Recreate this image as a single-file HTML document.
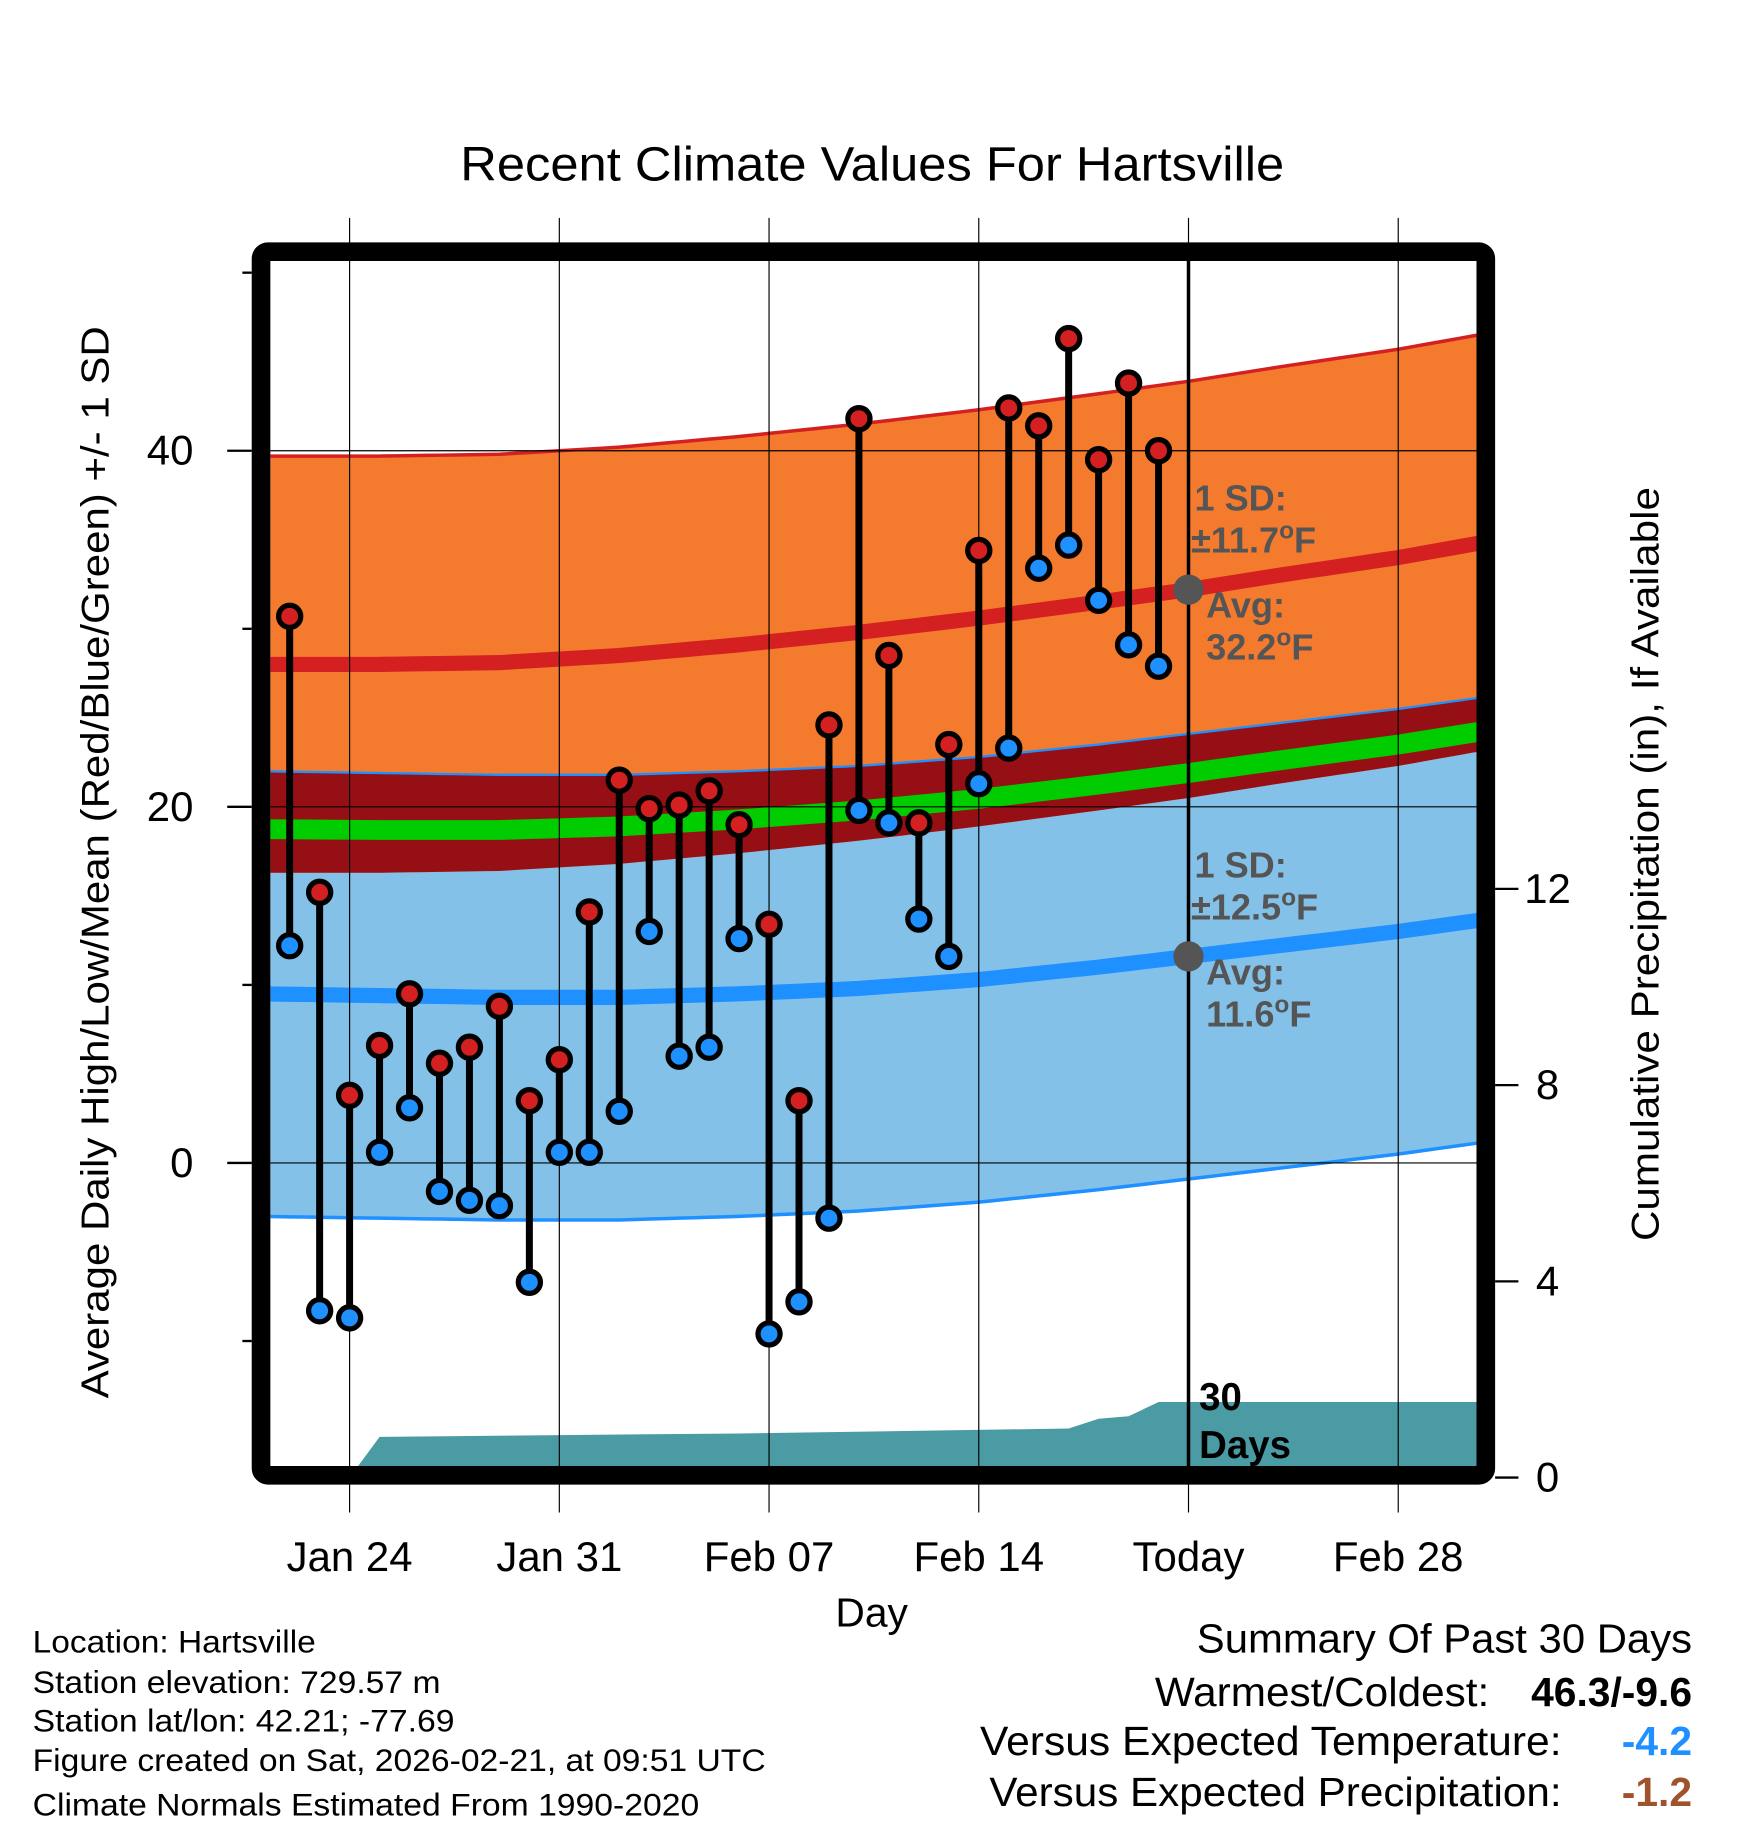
<!DOCTYPE html>
<html><head><meta charset="utf-8">
<style>
html,body{margin:0;padding:0;background:#fff;}
svg{display:block;font-family:"Liberation Sans",Arial,sans-serif;}
</style></head>
<body>
<svg id="chart" width="1748" height="1828" viewBox="0 0 1500 1568.7" preserveAspectRatio="none" xmlns="http://www.w3.org/2000/svg">
<defs><clipPath id="plotclip"><rect x="232" y="224" width="1035" height="1034"/></clipPath></defs>
<text x="395" y="155" font-size="41" textLength="707" lengthAdjust="spacingAndGlyphs">Recent Climate Values For Hartsville</text>
<g id="bands" clip-path="url(#plotclip)"></g>
<g id="grid"></g>
<g id="marks"></g>
<g id="annot"></g>
<rect x="224" y="216" width="1051" height="1050" rx="6" fill="none" stroke="#000" stroke-width="16"/>
<g id="axes"></g>
<text transform="translate(93,1200) rotate(-90)" font-size="33" textLength="920" lengthAdjust="spacingAndGlyphs">Average Daily High/Low/Mean (Red/Blue/Green) +/- 1 SD</text>
<text transform="translate(1423,1065) rotate(-90)" font-size="33" textLength="647" lengthAdjust="spacingAndGlyphs">Cumulative Precipitation (in), If Available</text>
<text x="748" y="1396" font-size="35" text-anchor="middle">Day</text>
<g font-size="27">
<text x="28" y="1418" textLength="243" lengthAdjust="spacingAndGlyphs">Location: Hartsville</text>
<text x="28" y="1453" textLength="350" lengthAdjust="spacingAndGlyphs">Station elevation: 729.57 m</text>
<text x="28" y="1486" textLength="362" lengthAdjust="spacingAndGlyphs">Station lat/lon: 42.21; -77.69</text>
<text x="28" y="1520" textLength="629" lengthAdjust="spacingAndGlyphs">Figure created on Sat, 2026-02-21, at 09:51 UTC</text>
<text x="28" y="1558" textLength="572" lengthAdjust="spacingAndGlyphs">Climate Normals Estimated From 1990-2020</text>
</g>
<g font-size="35">
<text x="1027" y="1418" textLength="425" lengthAdjust="spacingAndGlyphs">Summary Of Past 30 Days</text>
<text x="991" y="1464" textLength="287" lengthAdjust="spacingAndGlyphs">Warmest/Coldest:</text>
<text x="1452" y="1464" text-anchor="end" font-weight="bold">46.3/-9.6</text>
<text x="841" y="1506" textLength="499" lengthAdjust="spacingAndGlyphs">Versus Expected Temperature:</text>
<text x="1452" y="1506" text-anchor="end" font-weight="bold" fill="#1e90ff">-4.2</text>
<text x="849" y="1550" textLength="491" lengthAdjust="spacingAndGlyphs">Versus Expected Precipitation:</text>
<text x="1452" y="1550" text-anchor="end" font-weight="bold" fill="#a0522d">-1.2</text>
</g>
</svg>
<script>
// ---- data ----
const days = [-2,-1,0,1,2,3,4,5,6,7,8,9,10,11,12,13,14,15,16,17,18,19,20,21,22,23,24,25,26,27];
const highs = [30.7,15.2,3.8,6.6,9.5,5.6,6.5,8.8,3.5,5.8,14.1,21.5,19.9,20.1,20.9,19.0,13.4,3.5,24.6,41.8,28.5,19.1,23.5,34.4,42.4,41.4,46.3,39.5,43.8,40.0];
const lows = [12.2,-8.3,-8.7,0.6,3.1,-1.6,-2.1,-2.4,-6.7,0.6,0.6,2.9,13.0,6.0,6.5,12.6,-9.6,-7.8,-3.1,19.8,19.1,13.7,11.6,21.3,23.3,33.4,34.7,31.6,29.1,27.9];
const precipDays = [-3,0,1,13,24,25,26,27,28,38];
const precipCum = [0,0,0.83,0.9,1.0,1.2,1.25,1.54,1.54,1.54];
const normDays = [-3,1,5,9,13,17,21,25,28,31,35,38];
const normHigh = [28.0,28.0,28.1,28.5,29.1,29.8,30.6,31.5,32.2,33.0,34.0,34.9];
const normLow = [9.5,9.4,9.3,9.3,9.5,9.8,10.3,11.0,11.6,12.2,13.0,13.7];
const sdHigh = 11.7, sdLow = 12.5;
const xTickDays = [0,7,14,21,28,35];
const xTickLabels = ["Jan 24","Jan 31","Feb 07","Feb 14","Today","Feb 28"];
const yTicks = [0,20,40];
const yMinor = [-10,10,30,50];
const pTicks = [0,4,8,12];
const todayDay = 28;

// ---- scales ----
const X = d => 300 + d*25.71;
const Y = v => 998 - v*15.28;
const P = p => 1268 - p*42.1;
const NS = "http://www.w3.org/2000/svg";
function mk(tag, parent, attrs){const e=document.createElementNS(NS,tag);for(const k in attrs)e.setAttribute(k,attrs[k]);parent.appendChild(e);return e;}
function interp(xs, ys, x){for(let i=0;i<xs.length-1;i++){if(x<=xs[i+1]){const t=(x-xs[i])/(xs[i+1]-xs[i]);return ys[i]+t*(ys[i+1]-ys[i]);}}return ys[ys.length-1];}
const bands=document.getElementById('bands'), grid=document.getElementById('grid'), marks=document.getElementById('marks'), axes=document.getElementById('axes'), annot=document.getElementById('annot');
const samp=[];for(let d=-3;d<=38;d+=0.5)samp.push(d);
function area(fTop,fBot){let s='';samp.forEach((d,i)=>{s+=(i?'L':'M')+X(d)+','+Y(fTop(d));});for(let i=samp.length-1;i>=0;i--)s+='L'+X(samp[i])+','+Y(fBot(samp[i]));return s+'Z';}
function line(f){return samp.map((d,i)=>(i?'L':'M')+X(d)+','+Y(f(d))).join('');}
const H=d=>interp(normDays,normHigh,d), L=d=>interp(normDays,normLow,d);
let e;
e=mk('path',bands,{d:area(d=>L(d)+sdLow,d=>L(d)-sdLow),fill:'#83c1e8'});

e=mk('path',bands,{d:area(d=>H(d)+sdHigh,d=>H(d)-sdHigh),fill:'#f47a2e'});

e=mk('path',bands,{d:area(d=>L(d)+sdLow,d=>H(d)-sdHigh),fill:'#960f14'});

e=mk('path',bands,{d:line(d=>(H(d)+L(d))/2),stroke:'#00cc00','stroke-width':17,fill:'none'});

e=mk('path',bands,{d:line(d=>H(d)+sdHigh),stroke:'#d42020','stroke-width':3,fill:'none'});

e=mk('path',bands,{d:line(d=>L(d)+sdLow),stroke:'#1e90ff','stroke-width':2,fill:'none'});

e=mk('path',bands,{d:line(d=>L(d)-sdLow),stroke:'#1e90ff','stroke-width':3,fill:'none'});

e=mk('path',bands,{d:line(H),stroke:'#d42020','stroke-width':13,fill:'none'});

e=mk('path',bands,{d:line(L),stroke:'#1e90ff','stroke-width':13,fill:'none'});

// precip area
let pd='M'+X(precipDays[0])+','+P(0);
precipDays.forEach(d=>{pd+='L'+X(d)+','+P(interp(precipDays,precipCum,d));});
pd+='L'+X(precipDays[precipDays.length-1])+','+P(0)+'Z';
e=mk('path',bands,{d:pd,fill:'#4a9ba3'});

// grid
xTickDays.forEach(d=>{
  e=mk('line',grid,{x1:X(d),x2:X(d),y1:187,y2:1298,stroke:'#000','stroke-width':1});
  
});
yTicks.forEach(v=>{
  e=mk('line',grid,{x1:232,x2:1267,y1:Y(v),y2:Y(v),stroke:'#000','stroke-width':1});
  
});
e=mk('line',grid,{x1:X(todayDay),x2:X(todayDay),y1:224,y2:1258,stroke:'#000','stroke-width':3});

// marks
days.forEach((d,i)=>{
  e=mk('line',marks,{x1:X(d),x2:X(d),y1:Y(highs[i]),y2:Y(lows[i]),stroke:'#000','stroke-width':6});
  
  e=mk('circle',marks,{cx:X(d),cy:Y(highs[i]),r:9.5,fill:'#d42020',stroke:'#000','stroke-width':4.5});
  
  e=mk('circle',marks,{cx:X(d),cy:Y(lows[i]),r:9.5,fill:'#1e90ff',stroke:'#000','stroke-width':4.5});
  
});
// annotations
const tx=X(todayDay);
function atext(x,y,str,name,col,sup,fs){const t=mk('text',annot,{x:x,y:y,'font-size':fs||31,'font-weight':'bold',fill:col});t.textContent=str;
 if(sup){const s=mk('tspan',t,{dy:-12,'font-size':21});s.textContent='o';const f=mk('tspan',t,{dy:12});f.textContent='F';}
 }
const hAvg=H(todayDay), lAvg=L(todayDay);
e=mk('circle',annot,{cx:tx,cy:Y(hAvg),r:13,fill:'#555'});

e=mk('circle',annot,{cx:tx,cy:Y(lAvg),r:13,fill:'#555'});

atext(1025,438,'1 SD:','high-sd-label','#555');
atext(1022,474,'±'+sdHigh.toFixed(1),'high-sd-value','#555',true);
atext(1035,530,'Avg:','high-avg-label','#555');
atext(1035,566,hAvg.toFixed(1),'high-avg-value','#555',true);
atext(1025,753,'1 SD:','low-sd-label','#555');
atext(1022,789,'±'+sdLow.toFixed(1),'low-sd-value','#555',true);
atext(1035,845,'Avg:','low-avg-label','#555');
atext(1035,881,lAvg.toFixed(1),'low-avg-value','#555',true);
atext(1029,1210,'30','days-count-label','#000',false,33);
atext(1029,1251,'Days','days-word-label','#000',false,33);
// axes ticks & labels
yTicks.forEach(v=>{
  e=mk('line',axes,{x1:195,x2:216,y1:Y(v),y2:Y(v),stroke:'#000','stroke-width':2});
  
  e=mk('text',axes,{x:166,y:Y(v)+12,'font-size':36,'text-anchor':'end'});e.textContent=v;
  
});
yMinor.forEach(v=>{
  e=mk('line',axes,{x1:208,x2:216,y1:Y(v),y2:Y(v),stroke:'#000','stroke-width':2});
  
});
pTicks.forEach(p=>{
  e=mk('line',axes,{x1:1283,x2:1303,y1:P(p),y2:P(p),stroke:'#000','stroke-width':2});
  
  e=mk('text',axes,{x:1328,y:P(p)+12,'font-size':36,'text-anchor':'middle'});e.textContent=p;
  
});
xTickDays.forEach((d,i)=>{
  e=mk('text',axes,{x:X(d),y:1348,'font-size':36,'text-anchor':'middle'});e.textContent=xTickLabels[i];
  
});
</script>
</body></html>
